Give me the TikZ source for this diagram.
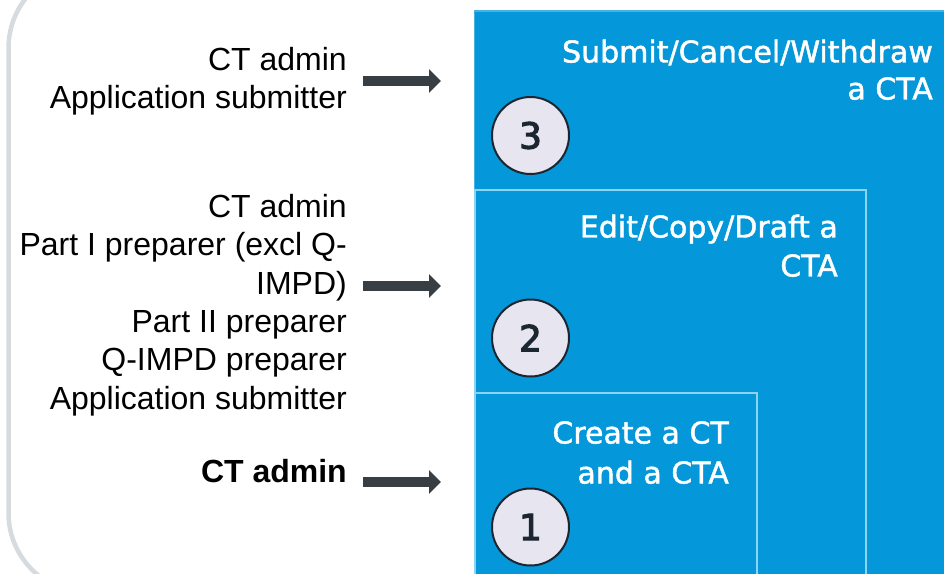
\documentclass[tikz,border=0pt]{standalone}
\usepackage{fontspec}
\setmainfont{Liberation Sans}
\newfontfamily\panelfont[FakeBold=1.5]{DejaVu Sans}
\newfontfamily\digitfont[FakeBold=3]{DejaVu Sans}
\usetikzlibrary{arrows.meta}

\definecolor{framegray}{RGB}{214,219,223}
\definecolor{panelblue}{RGB}{4,151,217}
\definecolor{rimblue}{RGB}{70,178,228}
\definecolor{edgeblue}{RGB}{140,212,243}
\definecolor{arrowdark}{RGB}{55,62,68}
\definecolor{discfill}{RGB}{231,229,240}
\definecolor{discline}{RGB}{28,38,48}

\tikzset{
  roles/.style={anchor=north east, inner sep=0pt, align=right,
    font=\fontsize{32}{38.4}\selectfont},
  steptext/.style={anchor=north east, inner sep=0pt, align=right, text=white},
  numdisc/.style={circle, draw=discline, line width=2pt, fill=discfill,
    minimum size=77pt, inner sep=0pt, text=discline,
    font=\digitfont\fontsize{36}{36}\selectfont},
  rolearrow/.style={draw=arrowdark, line width=10pt,
    -{Triangle[length=12pt,width=23pt]}},
  stepbox/.style={draw=edgeblue, line width=2.5pt},
}

\begin{document}
\begin{tikzpicture}[x=1pt,y=-1pt]
\useasboundingbox (0,0) rectangle (944,573);
\fill[white] (0,0) rectangle (944,573);

\begin{scope}
\clip (0,0) rectangle (944,573);
% outer rounded frame
\draw[framegray, line width=4.5pt, rounded corners=80pt] (8.5,-32) rectangle (1100,593);
% nested step panels
\fill[panelblue] (474.5,11) rectangle (1000,620);
\draw[rimblue, line width=1.5pt] (474.5,11) rectangle (1000,620);
\draw[stepbox] (475,190) rectangle (866,620);
\draw[stepbox] (475,393) rectangle (757,620);
\end{scope}

% step captions
\node[steptext, font=\panelfont\fontsize{30}{37}\selectfont] (s3) at (933,39.5)
  {Submit/Cancel/Withdraw\\a CTA};
\node[steptext, font=\panelfont\fontsize{30}{39}\selectfont] (s2) at (838,214.5)
  {Edit/Copy/Draft a\\CTA};
\node[steptext, font=\panelfont\fontsize{30}{40}\selectfont] (s1) at (729,421)
  {Create a CT\\and a CTA};

% step numbers
\node[numdisc] (n3) at (530.5,135.5) {3};
\node[numdisc] (n2) at (530.5,338) {2};
\node[numdisc] (n1) at (530.5,527) {1};

% roles
\node[roles] (r3) at (347,47) {CT admin\\Application submitter};
\node[roles] (r2) at (347,194) {CT admin\\Part I preparer (excl Q-\\IMPD)\\Part II preparer\\Q-IMPD preparer\\Application submitter};
\node[roles, font=\bfseries\fontsize{32}{38.4}\selectfont] (r1) at (347,459) {CT admin};

% arrow end points
\coordinate (a3s) at (363,81);  \coordinate (a3e) at (441,81);
\coordinate (a2s) at (363,286); \coordinate (a2e) at (441,286);
\coordinate (a1s) at (363,482); \coordinate (a1e) at (441,482);

\draw[rolearrow] (a3s) -- (a3e);
\draw[rolearrow] (a2s) -- (a2e);
\draw[rolearrow] (a1s) -- (a1e);
\end{tikzpicture}
\end{document}
